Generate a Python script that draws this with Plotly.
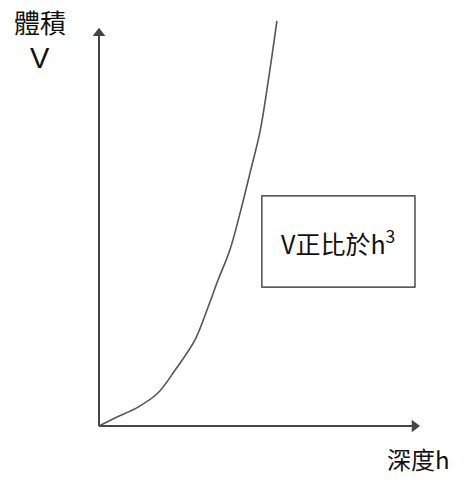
import plotly.graph_objects as go

# Data (h = depth, V = volume), arbitrary units
h_vals = [0, 0.5, 1.22, 1.84, 2.38, 3.0, 3.41, 3.72, 4.09, 4.41, 4.72, 5.03, 5.28, 5.56]
v_vals = [0, 0.25, 0.59, 1.03, 1.75, 2.69, 3.72, 4.56, 5.5, 6.66, 7.91, 9.19, 10.72, 12.66]

x_axis_end = 10.03
y_axis_end = 12.44
x_label = "深度h"
y_label_top = "體積"
y_label_bottom = "V"
box_text = "V正比於h<sup>3</sup>"

cjk = "Noto Sans CJK TC"
axis_col = "#444444"
fig = go.Figure()

# axes lines
fig.add_trace(go.Scatter(x=[0, x_axis_end - 0.1], y=[0, 0], mode="lines",
                         line=dict(color=axis_col, width=2), hoverinfo="skip", showlegend=False))
fig.add_trace(go.Scatter(x=[0, 0], y=[0, y_axis_end - 0.1], mode="lines",
                         line=dict(color=axis_col, width=2), hoverinfo="skip", showlegend=False))
# arrow heads
fig.add_trace(go.Scatter(x=[x_axis_end - 0.17], y=[0], mode="markers",
                         marker=dict(symbol="triangle-right", size=11, color=axis_col),
                         hoverinfo="skip", showlegend=False))
fig.add_trace(go.Scatter(x=[0], y=[y_axis_end - 0.17], mode="markers",
                         marker=dict(symbol="triangle-up", size=11, color=axis_col),
                         hoverinfo="skip", showlegend=False))

# curve
fig.add_trace(go.Scatter(x=h_vals, y=v_vals, mode="lines",
                         line=dict(color="#555555", width=1.6, shape="spline", smoothing=1.0),
                         hoverinfo="skip", showlegend=False))

fig.add_shape(type="rect", x0=5.09, x1=9.875, y0=4.34, y1=7.19, xref="x", yref="y",
              line=dict(color="#222222", width=1.2), fillcolor="white", layer="below")
fig.add_annotation(x=7.47, y=5.75, xref="x", yref="y", text=box_text, showarrow=False,
                   font=dict(family=cjk, size=25, color="#111111"))

fig.add_annotation(x=-1.84, y=12.63, xref="x", yref="y", text=y_label_top, showarrow=False,
                   font=dict(family=cjk, size=26, color="#111111"))
fig.add_annotation(x=-1.84, y=11.5, xref="x", yref="y", text=y_label_bottom, showarrow=False,
                   font=dict(family="Liberation Sans, Arial", size=29, color="#111111"))
fig.add_annotation(x=10.0, y=-1.0, xref="x", yref="y", text=x_label, showarrow=False,
                   borderpad=0, font=dict(family=cjk, size=24, color="#111111"))

fig.update_layout(width=470, height=480, margin=dict(l=0, r=0, t=0, b=0),
                  paper_bgcolor="white", plot_bgcolor="white",
                  xaxis=dict(range=[-3.094, 11.594], visible=False, fixedrange=True),
                  yaxis=dict(range=[-1.6875, 13.3125], visible=False, fixedrange=True))
fig.write_html("out.html", config={"displayModeBar": False},
               post_script="document.body.style.margin='0';")
